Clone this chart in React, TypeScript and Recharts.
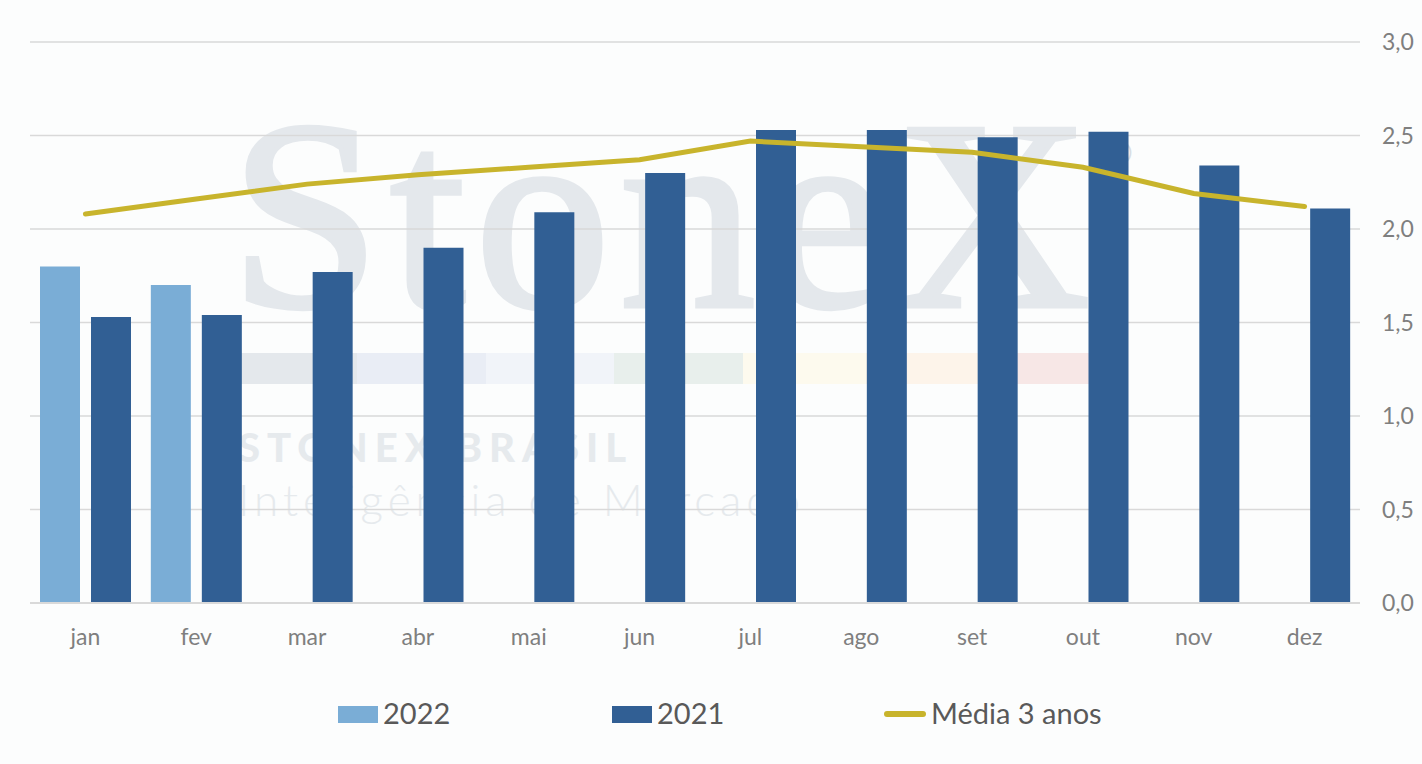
import React from 'react';
import { ComposedChart, Bar, Line, XAxis, YAxis, CartesianGrid } from 'recharts';

const months = ['jan', 'fev', 'mar', 'abr', 'mai', 'jun', 'jul', 'ago', 'set', 'out', 'nov', 'dez'];
const values2022: (number | null)[] = [1.8, 1.7, null, null, null, null, null, null, null, null, null, null];
const values2021 = [1.53, 1.54, 1.77, 1.9, 2.09, 2.3, 2.53, 2.53, 2.49, 2.52, 2.34, 2.11];
const media3anos = [2.08, 2.16, 2.24, 2.29, 2.33, 2.37, 2.47, 2.44, 2.41, 2.33, 2.19, 2.12];
const yTicks = [0, 0.5, 1, 1.5, 2, 2.5, 3];

const data = months.map((m, i) => ({
  month: m,
  y2022: values2022[i],
  y2021: values2021[i],
  media: media3anos[i],
}));

const bandColors = ['#e4e8ec', '#e9edf5', '#f1f4f9', '#e8efec', '#fdfaee', '#fdf4ea', '#f7e7e6'];
const bandWidths = [117, 129, 128, 129, 123, 151, 111];

const font = 'Lato, "Open Sans", sans-serif';

const Watermark = () => (
  <div style={{ position: 'absolute', left: 0, top: 0, width: 1422, height: 764, pointerEvents: 'none' }}>
    <div
      style={{
        position: 'absolute',
        left: 230,
        top: 80,
        fontFamily: '"Liberation Serif", serif',
        fontSize: 270,
        lineHeight: 1,
        letterSpacing: 10,
        color: '#e4e8ec',
        WebkitTextStroke: '5px #e4e8ec',
        whiteSpace: 'nowrap',
      }}
    >
      Stone<span style={{ letterSpacing: 0 }}>X</span>
    </div>
    <div
      style={{
        position: 'absolute',
        left: 1102,
        top: 136,
        fontFamily: '"DejaVu Sans", sans-serif',
        fontSize: 34,
        lineHeight: 1,
        color: '#d9dee3',
      }}
    >
      ®
    </div>
    <div style={{ position: 'absolute', left: 240, top: 353, height: 31, display: 'flex' }}>
      {bandColors.map((c, i) => (
        <div key={i} style={{ width: bandWidths[i], height: 31, background: c }} />
      ))}
    </div>
    <div
      style={{
        position: 'absolute',
        left: 238,
        top: 427,
        fontFamily: font,
        fontWeight: 900,
        fontSize: 40,
        lineHeight: 1,
        letterSpacing: 7,
        color: '#e6eaed',
        whiteSpace: 'nowrap',
      }}
    >
      STONEX BRASIL
    </div>
    <div
      style={{
        position: 'absolute',
        left: 238,
        top: 477,
        fontFamily: font,
        fontWeight: 300,
        fontSize: 44,
        lineHeight: 1,
        letterSpacing: 5,
        color: '#e6eaed',
        whiteSpace: 'nowrap',
      }}
    >
      Inteligência de Mercado
    </div>
  </div>
);

const LegendRow = () => (
  <div style={{ position: 'absolute', left: 0, top: 694, width: 1422, height: 40, fontFamily: font, fontSize: 29, color: '#595959' }}>
    <div style={{ position: 'absolute', left: 338, top: 12, width: 40, height: 17, background: '#7aadd6' }} />
    <div style={{ position: 'absolute', left: 383, top: 1 }}>2022</div>
    <div style={{ position: 'absolute', left: 612, top: 12, width: 40, height: 17, background: '#315f94' }} />
    <div style={{ position: 'absolute', left: 657, top: 1 }}>2021</div>
    <div style={{ position: 'absolute', left: 884, top: 17, width: 42, height: 6, borderRadius: 3, background: '#c8b42c' }} />
    <div style={{ position: 'absolute', left: 931, top: 1 }}>Média 3 anos</div>
  </div>
);

const App: React.FC = () => {
  return (
    <div style={{ position: 'absolute', left: 0, top: 0, width: 1422, height: 764, background: '#fcfdfd', overflow: 'hidden' }}>
      <Watermark />
      <div style={{ position: 'absolute', left: 0, top: 0 }}>
        <ComposedChart
          width={1422}
          height={764}
          data={data}
          margin={{ top: 42, right: 0, left: 30, bottom: 101 }}
          barGap={11}
        >
          <CartesianGrid vertical={false} stroke='#d9d9d9' strokeWidth={1.5} />
          <XAxis
            dataKey='month'
            axisLine={{ stroke: '#d9d9d9', strokeWidth: 2 }}
            tickLine={false}
            tickMargin={20}
            height={60}
            tick={{ fill: '#7f7f7f', fontSize: 23, fontFamily: font }}
          />
          <YAxis
            orientation='right'
            width={62}
            domain={[0, 3]}
            ticks={yTicks}
            axisLine={false}
            tickLine={false}
            tickMargin={16}
            tickFormatter={(v: number) => v.toFixed(1).replace('.', ',')}
            tick={{ fill: '#7f7f7f', fontSize: 23, fontFamily: font, textAnchor: 'start' }}
          />
          <Bar dataKey='y2022' name='2022' fill='#7aadd6' barSize={40} isAnimationActive={false} />
          <Bar dataKey='y2021' name='2021' fill='#315f94' barSize={40} isAnimationActive={false} />
          <Line
            dataKey='media'
            name='Média 3 anos'
            type='linear'
            stroke='#c8b42c'
            strokeWidth={5}
            strokeLinecap='round'
            dot={false}
            activeDot={false}
            isAnimationActive={false}
          />
        </ComposedChart>
      </div>
      <LegendRow />
    </div>
  );
};

export default App;
